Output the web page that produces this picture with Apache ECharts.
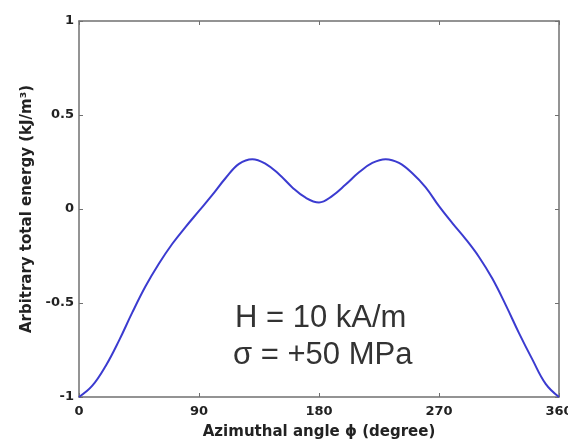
<!DOCTYPE html>
<html>
<head>
<meta charset="utf-8">
<script src="https://cdn.jsdelivr.net/npm/echarts@6/dist/echarts.min.js"></script>
<style>html,body{margin:0;padding:0;background:#fff;}#c{width:568px;height:443px;}</style>
</head>
<body>
<div id="c"></div>
<script>
var angles = [0,10,20,30,40,50,60,70,80,90,100,110,120,130,140,150,160,170,180,190,200,210,220,230,240,250,260,270,280,290,300,310,320,330,340,350,360];
var energy = [-1.0,-0.94,-0.835,-0.70,-0.55,-0.41,-0.29,-0.185,-0.095,-0.01,0.075,0.165,0.24,0.265,0.24,0.185,0.115,0.06,0.035,0.07,0.13,0.195,0.245,0.265,0.245,0.19,0.115,0.015,-0.075,-0.16,-0.255,-0.37,-0.51,-0.66,-0.80,-0.93,-1.0];
var xTicks = [0,90,180,270,360];
var yTicks = [-1,-0.5,0,0.5,1];
var annotation = ['H = 10 kA/m', 'σ = +50 MPa'];
var xName = 'Azimuthal angle ϕ (degree)';
var yName = 'Arbitrary total energy (kJ/m³)';

var chart = echarts.init(document.getElementById('c'));
var ff = 'Liberation Sans, Arial, sans-serif';
var fb = 'DejaVu Sans, sans-serif';
var lineCol = '#707070';
function axBase(show, pos){
  return {
    position: pos,
    axisLine:{show:true,onZero:false,lineStyle:{color:lineCol,width:1.5}},
    axisTick:{show:true,inside:true,length:4,lineStyle:{color:lineCol}},
    splitLine:{show:false},
    axisLabel:{show:show,color:'#222',fontFamily:fb,fontWeight:'bold',fontSize:13,
      margin:(pos==='bottom'?8:5)}
  };
}
var data = angles.map(function(a,i){return [a,energy[i]];});
chart.setOption({
  animation:false,
  backgroundColor:'#fff',
  grid:{left:79,right:9,top:21,bottom:46,containLabel:false,outerBoundsMode:'none'},
  xAxis:[
    Object.assign(axBase(true,'bottom'),{type:'value',min:xTicks[0],max:xTicks[xTicks.length-1],interval:90,
      name:xName,nameLocation:'middle',nameGap:28,
      nameTextStyle:{color:'#222',fontFamily:fb,fontWeight:'bold',fontSize:15}}),
    Object.assign(axBase(false,'top'),{type:'value',min:0,max:360,interval:90})
  ],
  yAxis:[
    Object.assign(axBase(true,'left'),{type:'value',min:yTicks[0],max:yTicks[yTicks.length-1],interval:0.5,
      name:yName,nameLocation:'middle',nameGap:42,nameRotate:90,
      nameTextStyle:{color:'#222',fontFamily:fb,fontWeight:'bold',fontSize:15}}),
    Object.assign(axBase(false,'right'),{type:'value',min:-1,max:1,interval:0.5})
  ],
  series:[{
    type:'line',data:data,smooth:0.4,showSymbol:false,
    lineStyle:{color:'#3b3bd0',width:2},
    xAxisIndex:0,yAxisIndex:0
  }],
  graphic:[
    {type:'text',left:235,top:303,style:{text:annotation[0],fontFamily:ff,fontSize:31,fill:'#333'}},
    {type:'text',left:233,top:340,style:{text:annotation[1],fontFamily:ff,fontSize:31,fill:'#333'}}
  ]
});
</script>
</body>
</html>
